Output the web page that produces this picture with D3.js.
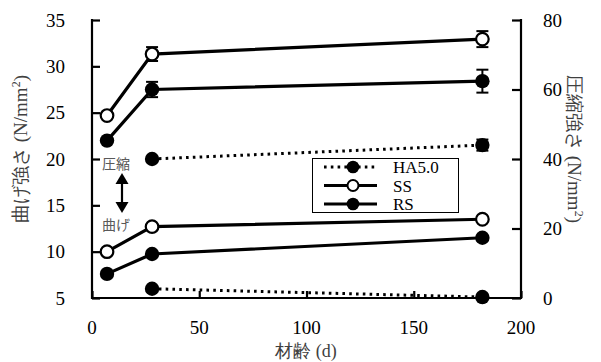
<html><head><meta charset="utf-8"><script src="https://cdn.jsdelivr.net/npm/d3@7"></script></head>
<body style="margin:0">
<svg id="chart" width="601" height="362" font-family="Liberation Serif" style="font-family: 'Liberation Serif'"></svg>
<script>
// Curing age (days)
const ageSS = [7, 28, 182];
const ageRS = [7, 28, 182];
const ageHA = [28, 182];

// Flexural strength (N/mm2), left axis
const flexSS = [10.0, 12.7, 13.5];
const flexRS = [7.6, 9.75, 11.5];
const flexHA = [6.0, 5.1];

// Compressive strength (N/mm2), right axis, with error half-widths
const compSS = [52.5, 70.2, 74.5];
const compSSErr = [0, 2.0, 2.3];
const compRS = [45.3, 60.0, 62.4];
const compRSErr = [0, 2.2, 3.3];
const compHA = [40.0, 44.0];
const compHAErr = [0, 1.6];

const xTicks = [0, 50, 100, 150, 200];
const yLeftTicks = [5, 10, 15, 20, 25, 30, 35];
const yRightTicks = [0, 20, 40, 60, 80];

const seriesNames = ["HA5.0", "SS", "RS"];

const svg = d3.select("#chart");

// Text helper: inherits the serif family from the root svg
function label(parent, str, size) {
  return parent.append("text").attr("font-size", size).text(str);
}

const x = d3.scaleLinear().domain([0, 200]).range([92, 521]);
const yL = d3.scaleLinear().domain([5, 35]).range([298, 20]);
const yR = d3.scaleLinear().domain([0, 80]).range([298, 20]);

// Axes: tick marks point inward, labels drawn separately
const axX = svg.append("g").attr("transform", "translate(0,298)")
  .call(d3.axisBottom(x).tickValues(xTicks).tickSize(-7).tickFormat(""));
const axL = svg.append("g").attr("transform", "translate(92,0)")
  .call(d3.axisLeft(yL).tickValues(yLeftTicks).tickSize(-8).tickFormat(""));
const axR = svg.append("g").attr("transform", "translate(521,0)")
  .call(d3.axisRight(yR).tickValues(yRightTicks).tickSize(-9).tickFormat(""));
[axX, axL, axR].forEach(g => {
  g.attr("font-family", null).attr("font-size", null);
  g.select(".domain").remove();
  g.selectAll(".tick text").remove();
  g.selectAll(".tick line").attr("stroke", "#000").attr("stroke-width", 2.2);
});

xTicks.forEach(v => label(svg, String(v), 19)
  .attr("x", x(v)).attr("y", 334).attr("text-anchor", "middle").attr("fill", "#000"));
yLeftTicks.forEach(v => label(svg, String(v), 19)
  .attr("x", 65).attr("y", yL(v) + 6.5).attr("text-anchor", "end").attr("fill", "#000"));
yRightTicks.forEach(v => label(svg, String(v), 19)
  .attr("x", 543).attr("y", yR(v) + 6.5).attr("text-anchor", "start").attr("fill", "#000"));

// Axis lines
svg.append("line").attr("x1", x(0) - 1).attr("x2", x(200) + 1).attr("y1", 298).attr("y2", 298)
  .attr("stroke", "#000").attr("stroke-width", 2.2);
svg.append("line").attr("x1", 92).attr("x2", 92).attr("y1", yL(35) - 1).attr("y2", 299)
  .attr("stroke", "#000").attr("stroke-width", 2.2);
svg.append("line").attr("x1", 521).attr("x2", 521).attr("y1", yR(80) - 1).attr("y2", 299)
  .attr("stroke", "#000").attr("stroke-width", 2.2);

// Axis titles
const tL = label(svg, "曲げ強さ (N/mm", 19)
  .attr("transform", "translate(27,149) rotate(-90)")
  .attr("text-anchor", "middle").attr("fill", "#404040");
tL.append("tspan").attr("baseline-shift", "super").attr("font-size", 12).text("2");
tL.append("tspan").text(")");
const tR = label(svg, "圧縮強さ (N/mm", 19)
  .attr("transform", "translate(568,149) rotate(90)")
  .attr("text-anchor", "middle").attr("fill", "#404040");
tR.append("tspan").attr("baseline-shift", "super").attr("font-size", 12).text("2");
tR.append("tspan").text(")");
label(svg, "材齢 (d)", 18)
  .attr("x", 306).attr("y", 357).attr("text-anchor", "middle").attr("fill", "#404040");

// Series drawing
const lineGen = (ys) => d3.line().x(d => x(d[0])).y(d => ys(d[1]));

function drawSeries(ages, vals, errs, ys, style) {
  const pts = ages.map((a, i) => [a, vals[i]]);
  const g = svg.append("g");
  g.append("path").datum(pts)
    .attr("d", lineGen(ys))
    .attr("fill", "none").attr("stroke", "#000")
    .attr("stroke-width", style.dotted ? 3 : 3.2)
    .attr("stroke-dasharray", style.dotted ? "2.6 4.2" : null);
  if (errs) {
    pts.forEach((p, i) => {
      const e = errs[i];
      if (!e) return;
      const cx = x(p[0]);
      const y1 = ys(p[1] - e), y2 = ys(p[1] + e);
      g.append("line").attr("x1", cx).attr("x2", cx).attr("y1", y1).attr("y2", y2)
        .attr("stroke", "#000").attr("stroke-width", 2);
      [y1, y2].forEach(yy => g.append("line")
        .attr("x1", cx - 6).attr("x2", cx + 6).attr("y1", yy).attr("y2", yy)
        .attr("stroke", "#000").attr("stroke-width", 2));
    });
  }
  g.selectAll("circle").data(pts).join("circle")
    .attr("cx", d => x(d[0])).attr("cy", d => ys(d[1]))
    .attr("r", style.open ? 6.3 : 7.2)
    .attr("fill", style.open ? "#fff" : "#000")
    .attr("stroke", "#000").attr("stroke-width", style.open ? 2.2 : 0);
}

const styles = {
  "HA5.0": { dotted: true, open: false },
  "SS": { dotted: false, open: true },
  "RS": { dotted: false, open: false }
};

// Flexural (left axis)
drawSeries(ageHA, flexHA, null, yL, styles["HA5.0"]);
drawSeries(ageRS, flexRS, null, yL, styles["RS"]);
drawSeries(ageSS, flexSS, null, yL, styles["SS"]);
// Compressive (right axis)
drawSeries(ageHA, compHA, compHAErr, yR, styles["HA5.0"]);
drawSeries(ageRS, compRS, compRSErr, yR, styles["RS"]);
drawSeries(ageSS, compSS, compSSErr, yR, styles["SS"]);

// Legend
svg.append("rect").attr("x", 312.5).attr("y", 158.5).attr("width", 146).attr("height", 54)
  .attr("fill", "#fff").attr("stroke", "#000").attr("stroke-width", 1);
seriesNames.forEach((name, i) => {
  const yy = 167 + i * 18.5;
  const s = styles[name];
  svg.append("line").attr("x1", 324).attr("x2", 377).attr("y1", yy).attr("y2", yy)
    .attr("stroke", "#000").attr("stroke-width", 3)
    .attr("stroke-dasharray", s.dotted ? "2.6 4.2" : null);
  svg.append("circle").attr("cx", 353).attr("cy", yy)
    .attr("r", s.open ? 5.5 : 6.3)
    .attr("fill", s.open ? "#fff" : "#000")
    .attr("stroke", "#000").attr("stroke-width", s.open ? 2 : 0);
  label(svg, name, 17).attr("x", 393).attr("y", yy + 6).attr("fill", "#000");
});

// Group annotations with a double-headed arrow
label(svg, "圧縮", 14).attr("x", 102).attr("y", 169).attr("fill", "#595959")
  .style("font-family", '"Noto Sans CJK JP"');
label(svg, "曲げ", 14).attr("x", 102).attr("y", 230).attr("fill", "#595959")
  .style("font-family", '"Noto Sans CJK JP"');
const ax = 122;
svg.append("line").attr("x1", ax).attr("x2", ax).attr("y1", 180).attr("y2", 206)
  .attr("stroke", "#000").attr("stroke-width", 2.2);
svg.append("path").attr("d", `M${ax},173 L${ax - 6.5},184 L${ax + 6.5},184 Z`).attr("fill", "#000");
svg.append("path").attr("d", `M${ax},213 L${ax - 6.5},202 L${ax + 6.5},202 Z`).attr("fill", "#000");
</script>
</body></html>
